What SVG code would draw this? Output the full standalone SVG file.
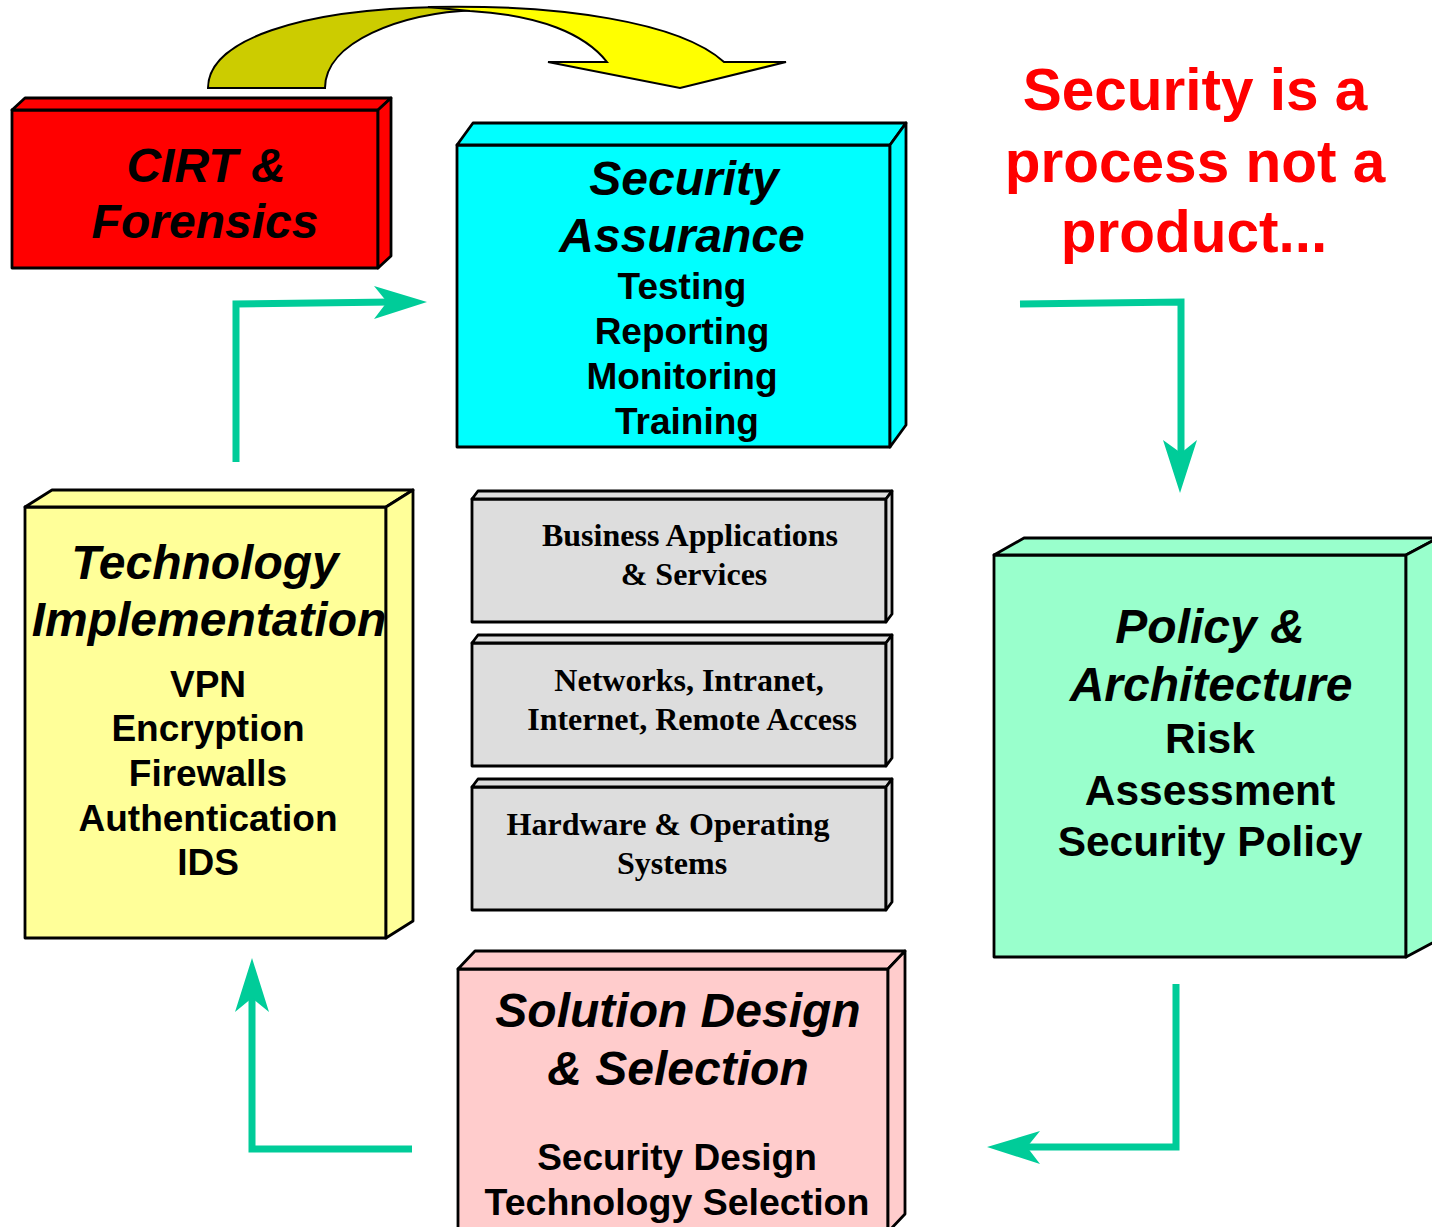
<svg xmlns="http://www.w3.org/2000/svg" width="1432" height="1227" viewBox="0 0 1432 1227">
  <style>
    .face { stroke: #000; stroke-width: 2.8; stroke-linejoin: round; }
    .title { font-family: "Liberation Sans", Arial, sans-serif; font-weight: bold; font-style: italic; font-size: 48px; fill: #000; text-anchor: middle; }
    .item { font-family: "Liberation Sans", Arial, sans-serif; font-weight: bold; font-size: 37px; fill: #000; text-anchor: middle; }
    .item42 { font-family: "Liberation Sans", Arial, sans-serif; font-weight: bold; font-size: 42.5px; fill: #000; text-anchor: middle; }
    .layer { font-family: "Liberation Serif", "Times New Roman", serif; font-weight: bold; font-size: 32px; fill: #000; text-anchor: middle; }
    .motto { font-family: "Liberation Sans", Arial, sans-serif; font-weight: bold; font-size: 58.5px; fill: #ff0000; text-anchor: middle; }
    .flow { fill: none; stroke: #00cc99; stroke-width: 7; stroke-linejoin: miter; }
    .head { fill: #00cc99; stroke: none; }
  </style>

  <rect x="0" y="0" width="1432" height="1227" fill="#ffffff"/>

  <!-- curved jump arrow over the top -->
  <g id="jump-arrow">
    <path d="M208,88 C208,40 300,9 440,7 L476,10 C400,13 325,42 325,88 Z" fill="#cccc00" stroke="#000" stroke-width="2"/>
    <path d="M428,7 C560,4 680,22 724,62 L786,62 L680,88 L548,62 L607,62 C585,34 540,15 470,11 Z" fill="#ffff00" stroke="#000" stroke-width="2" stroke-linejoin="miter"/>
  </g>

  <!-- CIRT & Forensics -->
  <g id="cirt">
    <rect class="face" x="12" y="110" width="366" height="158" fill="#ff0000"/>
    <polygon class="face" points="12,110 25,98 391,98 378,110" fill="#ff0000"/>
    <polygon class="face" points="378,110 391,98 391,256 378,268" fill="#ff0000"/>
    <text class="title" x="206" y="182">CIRT &amp;</text>
    <text class="title" x="205" y="238">Forensics</text>
  </g>

  <!-- Security Assurance -->
  <g id="assurance">
    <rect class="face" x="457" y="145" width="433" height="302" fill="#00ffff"/>
    <polygon class="face" points="457,145 473,123 906,123 890,145" fill="#00ffff"/>
    <polygon class="face" points="890,145 906,123 906,425 890,447" fill="#00ffff"/>
    <text class="title" x="684" y="195">Security</text>
    <text class="title" x="682" y="252">Assurance</text>
    <text class="item" x="682" y="299">Testing</text>
    <text class="item" x="682" y="344">Reporting</text>
    <text class="item" x="682" y="389">Monitoring</text>
    <text class="item" x="687" y="434">Training</text>
  </g>

  <!-- Technology Implementation -->
  <g id="implementation">
    <rect class="face" x="25" y="507" width="361" height="431" fill="#ffff99"/>
    <polygon class="face" points="25,507 52,490 413,490 386,507" fill="#ffff99"/>
    <polygon class="face" points="386,507 413,490 413,921 386,938" fill="#ffff99"/>
    <text class="title" x="205" y="579">Technology</text>
    <text class="title" x="209" y="636">Implementation</text>
    <text class="item" x="208" y="697">VPN</text>
    <text class="item" x="208" y="741">Encryption</text>
    <text class="item" x="208" y="786">Firewalls</text>
    <text class="item" x="208" y="831">Authentication</text>
    <text class="item" x="208" y="875">IDS</text>
  </g>

  <!-- Policy & Architecture -->
  <g id="policy">
    <rect class="face" x="994" y="555" width="412" height="402" fill="#99ffcc"/>
    <polygon class="face" points="994,555 1024,538 1438,538 1406,555" fill="#99ffcc"/>
    <polygon class="face" points="1406,555 1438,538 1438,940 1406,957" fill="#99ffcc"/>
    <text class="title" x="1210" y="643">Policy &amp;</text>
    <text class="title" x="1211" y="701">Architecture</text>
    <text class="item42" x="1210" y="753">Risk</text>
    <text class="item42" x="1210" y="805">Assessment</text>
    <text class="item42" x="1210" y="856">Security Policy</text>
  </g>

  <!-- Solution Design & Selection -->
  <g id="solution">
    <rect class="face" x="458" y="969" width="430" height="263" fill="#ffcccc"/>
    <polygon class="face" points="458,969 475,951 905,951 888,969" fill="#ffcccc"/>
    <polygon class="face" points="888,969 905,951 905,1214 888,1232" fill="#ffcccc"/>
    <text class="title" x="678" y="1027">Solution Design</text>
    <text class="title" x="678" y="1085">&amp; Selection</text>
    <text class="item" x="677" y="1170">Security Design</text>
    <text class="item" x="677" y="1215" style="font-size:37.5px">Technology Selection</text>
  </g>

  <!-- infrastructure layers -->
  <g id="layer-apps">
    <rect class="face" x="472" y="499" width="414" height="123" fill="#dddddd"/>
    <polygon class="face" points="472,499 478,491 892,491 886,499" fill="#dddddd"/>
    <polygon class="face" points="886,499 892,491 892,614 886,622" fill="#dddddd"/>
    <text class="layer" x="690" y="546">Business Applications</text>
    <text class="layer" x="694" y="585">&amp; Services</text>
  </g>
  <g id="layer-networks">
    <rect class="face" x="472" y="643" width="414" height="123" fill="#dddddd"/>
    <polygon class="face" points="472,643 478,635 892,635 886,643" fill="#dddddd"/>
    <polygon class="face" points="886,643 892,635 892,758 886,766" fill="#dddddd"/>
    <text class="layer" x="689" y="691">Networks, Intranet,</text>
    <text class="layer" x="692" y="730">Internet, Remote Access</text>
  </g>
  <g id="layer-hardware">
    <rect class="face" x="472" y="787" width="414" height="123" fill="#dddddd"/>
    <polygon class="face" points="472,787 478,779 892,779 886,787" fill="#dddddd"/>
    <polygon class="face" points="886,787 892,779 892,902 886,910" fill="#dddddd"/>
    <text class="layer" x="668" y="835">Hardware &amp; Operating</text>
    <text class="layer" x="672" y="874">Systems</text>
  </g>

  <!-- motto -->
  <g id="motto">
    <text class="motto" x="1195" y="110">Security is a</text>
    <text class="motto" x="1195" y="182">process not a</text>
    <text class="motto" x="1194" y="252">product...</text>
  </g>

  <!-- cycle connectors -->
  <g id="connectors">
    <path class="flow" d="M236,462 L236,304 L392,302"/>
    <polygon class="head" points="427,302 374,286 387,302 374,319"/>

    <path class="flow" d="M1020,304 L1181,302 L1181,458"/>
    <polygon class="head" points="1180,493 1163,440 1181,453 1197,440"/>

    <path class="flow" d="M1176,984 L1176,1147 L1022,1147"/>
    <polygon class="head" points="987,1147 1040,1131 1027,1147 1040,1164"/>

    <path class="flow" d="M412,1149 L252,1149 L252,993"/>
    <polygon class="head" points="252,958 235,1012 252,998 269,1012"/>
  </g>
</svg>
